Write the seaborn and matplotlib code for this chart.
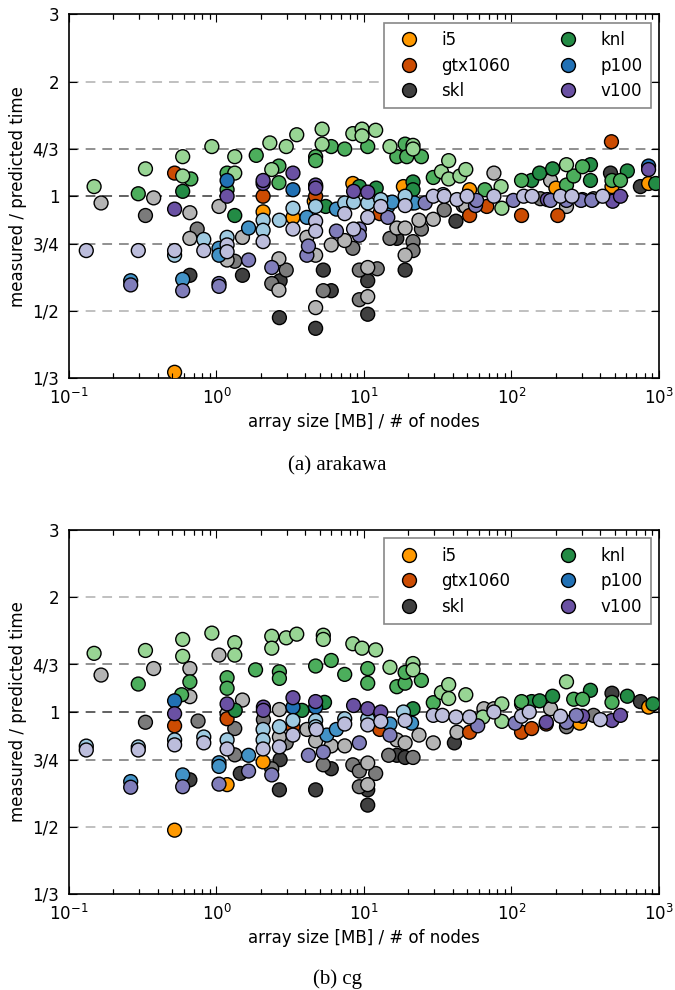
import numpy as np
import pandas as pd
import matplotlib
matplotlib.use("Agg")
import matplotlib.pyplot as plt
import matplotlib.transforms as mtransforms
from matplotlib.lines import Line2D
from matplotlib.ticker import NullLocator, FixedLocator, FixedFormatter
import seaborn as sns

# ---------------- data : (a) arakawa ----------------
ara_i5_x = [0.52, 2.07, 3.3, 4.6, 8.4, 18.5, 52, 200, 480, 850]
ara_i5_y = [0.345, 0.91, 0.88, 0.97, 1.08, 1.06, 1.04, 1.05, 1.06, 1.08]
ara_gtx_x = [0.52, 2.07, 4.7, 12.8, 52, 68, 117, 206, 476]
ara_gtx_y = [1.15, 1.0, 1.0, 0.90, 0.89, 0.94, 0.89, 0.89, 1.39]
ara_skl_d_x = [0.66, 1.5, 2.67, 2.7, 4.7, 5.3, 6.0, 10.6, 10.6, 16.7, 19, 42, 469, 748]
ara_skl_d_y = [0.62, 0.62, 0.48, 0.60, 0.45, 0.64, 0.565, 0.60, 0.49, 0.775, 0.64, 0.86, 1.15, 1.06]
ara_skl_m_x = [0.33, 0.74, 1.33, 2.37, 2.97, 5.3, 8.4, 9.3, 9.3, 12.3, 15, 21.5, 21.5, 24.5, 35, 47, 157, 360]
ara_skl_m_y = [0.89, 0.82, 0.675, 0.59, 0.64, 0.565, 0.73, 0.64, 0.535, 0.645, 0.775, 0.76, 0.72, 0.82, 0.92, 0.945, 0.985, 0.985]
ara_skl_l_x = [0.165, 0.375, 0.66, 0.66, 1.04, 1.18, 1.5, 2.65, 2.65, 4.1, 4.7, 4.7, 6.0, 7.4, 10.6, 10.6,
               16.7, 19, 19, 23.6, 29.5, 49, 76, 184, 236]
ara_skl_l_y = [0.96, 0.99, 0.905, 0.775, 0.94, 0.68, 0.78, 0.685, 0.567, 0.78, 0.70, 0.51, 0.745, 0.765, 0.65, 0.545,
               0.825, 0.825, 0.70, 0.865, 0.87, 0.94, 1.15, 1.10, 0.94]
ara_knl_d_x = [0.59, 1.33, 5.5, 9.3, 12.1, 21.5, 21.5, 137, 155, 190, 343, 343, 610, 950]
ara_knl_d_y = [1.03, 0.89, 0.94, 1.06, 1.05, 1.09, 1.04, 1.10, 1.15, 1.18, 1.21, 1.10, 1.165, 1.08]
ara_knl_m_x = [0.295, 0.67, 1.18, 1.18, 1.86, 2.65, 2.65, 4.7, 4.7, 6.0, 7.4, 10.6, 16.7, 19, 19.5, 24.5, 29.5,
               66, 117, 236, 264, 303, 480, 548]
ara_knl_m_y = [1.015, 1.11, 1.15, 1.04, 1.28, 1.20, 1.085, 1.27, 1.24, 1.35, 1.33, 1.35, 1.27, 1.37, 1.27, 1.27, 1.12,
               1.04, 1.10, 1.07, 1.13, 1.195, 1.10, 1.10]
ara_knl_l_x = [0.148, 0.33, 0.59, 0.59, 0.93, 1.33, 1.33, 2.3, 2.37, 2.97, 3.5, 5.2, 5.2, 8.4, 9.7, 9.7, 12,
               15, 21.5, 21.5, 33.5, 37.5, 37.5, 44.7, 49, 85, 86, 236]
ara_knl_l_y = [1.06, 1.18, 1.27, 1.13, 1.35, 1.27, 1.15, 1.38, 1.175, 1.35, 1.45, 1.5, 1.37, 1.46, 1.5, 1.44, 1.49,
               1.35, 1.36, 1.33, 1.16, 1.24, 1.11, 1.13, 1.175, 1.06, 0.93, 1.21]
ara_p100_d_x = [1.18, 3.3, 4.7, 850]
ara_p100_d_y = [1.10, 1.04, 1.06, 1.2]
ara_p100_m_x = [0.262, 0.59, 1.04, 1.04, 1.65, 4.1, 6.5, 14.5, 15.5, 21, 22]
ara_p100_m_y = [0.60, 0.605, 0.73, 0.70, 0.825, 0.88, 0.925, 0.94, 0.965, 0.96, 0.96]
ara_p100_l_x = [0.52, 0.82, 1.18, 2.07, 2.07, 2.67, 3.3, 4.7, 7.4, 8.5, 10.6, 13, 19, 34.4]
ara_p100_l_y = [0.70, 0.77, 0.78, 0.865, 0.814, 0.865, 0.93, 0.94, 0.96, 0.965, 0.96, 0.98, 1.0, 1.01]
ara_v100_d_x = [0.52, 1.18, 2.07, 2.07, 3.3, 4.7, 4.7, 8.5, 10.6, 175, 303, 485, 548, 850]
ara_v100_d_y = [0.925, 1.0, 1.08, 1.10, 1.15, 1.07, 1.05, 1.03, 1.025, 0.98, 0.98, 0.97, 1.0, 1.175]
ara_v100_m_x = [0.262, 0.59, 1.04, 1.04, 1.65, 2.37, 4.1, 4.2, 6.5, 9.3, 9.3, 14.5, 26, 57, 58, 103, 184, 236, 296, 350]
ara_v100_m_y = [0.585, 0.565, 0.59, 0.58, 0.68, 0.65, 0.70, 0.74, 0.81, 0.82, 0.79, 0.88, 0.96, 0.945, 0.975, 0.975,
                0.975, 0.975, 0.975, 0.975]
ara_v100_l_x = [0.131, 0.295, 0.52, 0.82, 1.18, 1.18, 2.07, 3.3, 4.7, 4.7, 7.4, 8.5, 10.6, 13, 19, 29.5, 35, 42.7,
                50, 76, 121, 138, 215, 257, 415]
ara_v100_l_y = [0.72, 0.72, 0.72, 0.72, 0.745, 0.715, 0.76, 0.82, 0.86, 0.81, 0.90, 0.82, 0.88, 0.94, 0.945, 1.0, 1.0,
                0.98, 1.0, 1.0, 1.0, 1.0, 1.0, 1.0, 1.0]

# ---------------- data : (b) cg ----------------
cg_i5_x = [0.52, 1.18, 2.07, 290, 850]
cg_i5_y = [0.49, 0.645, 0.74, 0.935, 1.03]
cg_gtx_x = [0.52, 1.18, 3.3, 12.8, 52, 117, 137, 172]
cg_gtx_y = [0.92, 0.96, 0.915, 0.90, 0.885, 0.885, 0.905, 0.93]
cg_skl_d_x = [0.66, 1.45, 2.7, 2.67, 4.7, 6.0, 10.6, 10.6, 16.7, 19, 41, 480, 748]
cg_skl_d_y = [0.664, 0.69, 0.75, 0.625, 0.625, 0.71, 0.57, 0.625, 0.77, 0.76, 0.83, 1.12, 1.065]
cg_skl_m_x = [0.33, 0.75, 1.33, 1.33, 2.08, 2.37, 2.97, 5.3, 8.4, 9.3, 9.3, 12, 14.7, 21.5, 236, 360]
cg_skl_m_y = [0.94, 0.947, 0.905, 0.772, 0.955, 0.71, 0.83, 0.727, 0.727, 0.637, 0.70, 0.69, 0.77, 0.76, 0.915, 0.98]
cg_skl_l_x = [0.165, 0.375, 0.66, 0.66, 1.04, 1.5, 1.18, 2.67, 2.67, 4.1, 4.7, 6.0, 7.4, 10.6, 10.6, 16.7, 19,
              23.6, 29.5, 42.7, 65, 76, 117, 184]
cg_skl_l_y = [1.25, 1.30, 1.30, 1.097, 1.41, 1.075, 0.99, 1.015, 0.86, 0.90, 0.84, 0.815, 0.815, 0.735, 0.645, 0.845,
              0.83, 0.87, 0.83, 0.885, 1.02, 1.02, 1.05, 1.02]
cg_knl_d_x = [1.34, 3.8, 5.4, 21.5, 137, 155, 190, 343, 610, 910]
cg_knl_d_y = [1.01, 1.01, 1.06, 1.02, 1.065, 1.07, 1.10, 1.14, 1.10, 1.05]
cg_knl_m_x = [0.295, 0.58, 0.66, 1.18, 1.18, 1.84, 2.67, 2.67, 4.7, 6.0, 7.4, 10.6, 10.6, 16.7, 19, 19, 24.5, 29.5,
              117, 264, 303, 480]
cg_knl_m_y = [1.184, 1.11, 1.20, 1.23, 1.154, 1.29, 1.275, 1.225, 1.32, 1.365, 1.255, 1.30, 1.19, 1.165, 1.19, 1.27,
              1.21, 1.058, 1.065, 1.08, 1.08, 1.06]
cg_knl_l_x = [0.148, 0.33, 0.59, 0.59, 0.93, 1.33, 1.33, 2.37, 2.37, 2.97, 3.5, 5.3, 5.3, 8.4, 9.7, 12, 15, 21.5,
              21.5, 33.5, 37.5, 37.5, 49, 64, 86, 86, 236]
cg_knl_l_y = [1.425, 1.45, 1.55, 1.40, 1.61, 1.52, 1.41, 1.58, 1.47, 1.565, 1.6, 1.59, 1.55, 1.51, 1.47, 1.455, 1.31,
              1.34, 1.29, 1.125, 1.18, 1.085, 1.11, 0.97, 1.05, 0.945, 1.20]
cg_p100_d_x = [0.52, 3.3, 4.7]
cg_p100_d_y = [1.07, 1.03, 1.03]
cg_p100_m_x = [0.262, 0.59, 1.04, 1.04, 1.65, 5.6, 6.5, 15, 21]
cg_p100_m_y = [0.657, 0.684, 0.736, 0.72, 0.77, 0.87, 0.90, 0.93, 0.935]
cg_p100_l_x = [0.131, 0.295, 0.52, 0.82, 1.18, 2.07, 2.07, 2.67, 3.3, 4.7, 4.7, 7.4, 10.6, 18.5]
cg_p100_l_y = [0.814, 0.81, 0.845, 0.86, 0.845, 0.90, 0.845, 0.915, 0.95, 0.95, 0.915, 0.96, 0.96, 1.0]
cg_v100_d_x = [0.52, 1.18, 2.08, 2.08, 3.3, 4.7, 8.5, 10.6, 13, 172, 303, 480, 548]
cg_v100_d_y = [0.99, 1.05, 1.03, 1.01, 1.09, 1.065, 1.04, 1.02, 1.0, 0.94, 0.975, 0.95, 0.98]
cg_v100_m_x = [0.262, 0.59, 1.04, 1.65, 2.37, 4.2, 5.3, 9.3, 15, 59, 106, 236, 275]
cg_v100_m_y = [0.635, 0.637, 0.647, 0.70, 0.684, 0.77, 0.785, 0.83, 0.87, 0.92, 0.935, 0.94, 0.98]
cg_v100_l_x = [0.131, 0.295, 0.52, 0.82, 1.18, 2.07, 2.67, 3.3, 4.75, 7.4, 10.6, 13, 19, 29.5, 34, 42, 52, 76,
               117, 132, 215, 400]
cg_v100_l_y = [0.795, 0.795, 0.82, 0.83, 0.80, 0.80, 0.81, 0.87, 0.90, 0.93, 0.925, 0.945, 0.95, 0.98, 0.98, 0.97,
               0.97, 1.0, 0.975, 1.0, 0.975, 0.955]

arch_names = ["i5", "gtx1060", "skl", "knl", "p100", "v100"]
ytick_vals = [1/3, 1/2, 3/4, 1, 4/3, 2, 3]
ytick_labels = ["1/3", "1/2", "3/4", "1", "4/3", "2", "3"]
captions = ["(a) arakawa", "(b) cg"]

palette = {
    "skl_d": "#404040", "skl_m": "#7b7b7b", "skl_l": "#b4b4b4",
    "i5": "#ff9900", "gtx": "#cc4c02",
    "knl_d": "#238b45", "knl_m": "#4cae5c", "knl_l": "#98d594",
    "p100_d": "#2171b5", "p100_m": "#4292c6", "p100_l": "#9ecae1",
    "v100_d": "#6a51a3", "v100_m": "#807dba", "v100_l": "#bcbddc",
}
legend_colors = ["#ff9900", "#cc4c02", "#404040", "#238b45", "#2171b5", "#6a51a3"]


def build(prefix):
    g = globals()
    order = ["skl_d", "skl_m", "skl_l", "i5", "gtx", "knl_d", "knl_m", "knl_l",
             "p100_d", "p100_m", "p100_l", "v100_d", "v100_m", "v100_l"]
    frames = []
    for key in order:
        xs = g[f"{prefix}_{key}_x"]
        ys = g[f"{prefix}_{key}_y"]
        frames.append(pd.DataFrame({"x": xs, "y": ys, "series": key}))
    return pd.concat(frames, ignore_index=True)


sns.set_theme(style="ticks")
plt.rcParams.update({
    "font.family": ["DejaVu Sans"],
    "text.color": "black", "axes.labelcolor": "black",
    "xtick.labelcolor": "black", "ytick.labelcolor": "black",
    "xtick.direction": "in", "ytick.direction": "in",
    "xtick.top": True, "ytick.right": True,
    "xtick.major.size": 6, "xtick.minor.size": 3.5,
    "ytick.major.size": 6, "ytick.minor.size": 3.5,
    "xtick.major.width": 0.8, "ytick.major.width": 0.8,
    "xtick.minor.width": 0.8,
    "axes.linewidth": 1.2, "axes.edgecolor": "black",
    "xtick.color": "black", "ytick.color": "black",
    "lines.scale_dashes": False,
})

minor_x = [k * 10.0 ** e for e in range(-1, 3) for k in range(2, 10)]

fig = plt.figure(figsize=(6.75, 9.9), dpi=100)
ax_rects = [[0.1022, 0.6182, 0.8741, 0.3672], [0.1022, 0.0970, 0.8741, 0.3676]]
caption_y = [0.529, 0.0105]
axes = []

for i, prefix in enumerate(["ara", "cg"]):
    ax = fig.add_axes(ax_rects[i])
    axes.append(ax)
    df = build(prefix)
    ax.set_xscale("log")
    ax.set_yscale("log")
    grid_cols = {1/2: "#bbbbbb", 3/4: "#888888", 1: "#555555", 4/3: "#888888", 2: "#bbbbbb"}
    for v, c in grid_cols.items():
        ax.axhline(v, color=c, lw=1.3, linestyle=(0, (7, 5)), zorder=0)
    sns.scatterplot(data=df, x="x", y="y", hue="series", palette=palette, s=100,
                    edgecolor="black", linewidth=1.0, legend=False, ax=ax, zorder=3)
    ax.set_xlim(0.1, 1000)
    ax.set_ylim(1/3, 3)
    ax.yaxis.set_major_locator(FixedLocator(ytick_vals))
    ax.yaxis.set_major_formatter(FixedFormatter(ytick_labels))
    ax.yaxis.set_minor_locator(NullLocator())
    ax.tick_params(labelsize=12, pad=7)
    ax.set_xlabel("array size [MB] / # of nodes", fontsize=12, labelpad=4)
    ax.set_ylabel("measured / predicted time", fontsize=12, labelpad=4)
    handles = [Line2D([0], [0], marker="o", linestyle="none", markersize=10,
                      markerfacecolor=c, markeredgecolor="black", markeredgewidth=1.0)
               for c in legend_colors]
    leg = ax.legend(handles, arch_names, ncol=2, loc="upper right", fontsize=12,
                    frameon=True, fancybox=False, edgecolor="#888888", framealpha=1,
                    handlelength=2.0, handletextpad=0.92, columnspacing=2.5,
                    labelspacing=0.45, borderpad=0.5, borderaxespad=0.5)
    leg.get_frame().set_linewidth(1.2)
    fig.text(0.5, caption_y[i], captions[i], ha="center", va="center",
             fontsize=15, family=["Liberation Serif", "DejaVu Serif"])

for ax in axes:
    ax.xaxis.set_minor_locator(FixedLocator(minor_x))
    ax.tick_params(axis="x", which="minor", top=True, bottom=True, direction="in",
                   length=3.5, width=0.8, color="black")
    # explicit short inward marks at the minor-tick positions on bottom and top spines
    trans = mtransforms.blended_transform_factory(ax.transData, ax.transAxes)
    frac = 5.0 / (ax.get_position().height * fig.get_size_inches()[1] * fig.dpi)
    for m in minor_x:
        ax.plot([m, m], [0, frac], color="black", lw=0.8, transform=trans,
                clip_on=False, zorder=6, solid_capstyle="butt")
        ax.plot([m, m], [1 - frac, 1], color="black", lw=0.8, transform=trans,
                clip_on=False, zorder=6, solid_capstyle="butt")
    ax.set_xlim(0.1, 1000)
    ax.set_ylim(1/3, 3)

fig.canvas.draw()
fig.savefig("out.png", dpi=100)
